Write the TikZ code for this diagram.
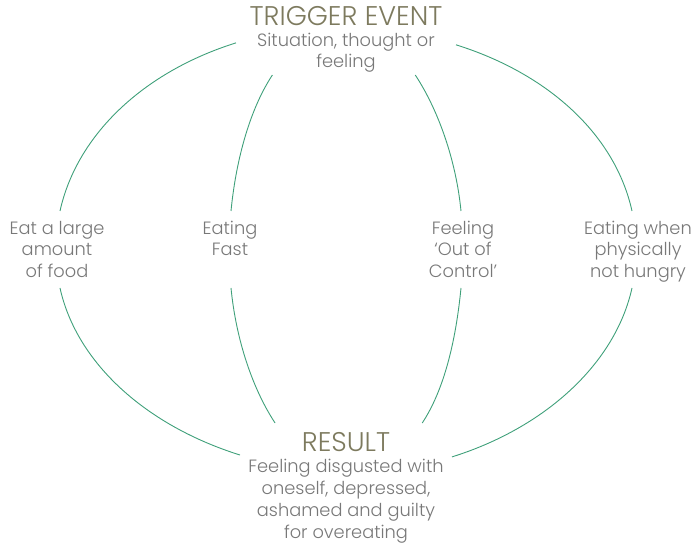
\documentclass[tikz,border=0pt]{standalone}
\usepackage{fontspec}
\setmainfont{Poppins}[UprightFont={* Light}]
\definecolor{headcol}{HTML}{7D7A5E}
\definecolor{textcol}{HTML}{787878}
\definecolor{arccol}{HTML}{3FA07A}
\tikzset{
  head/.style={text=headcol, font=\fontsize{27}{29}\selectfont, inner sep=0pt, outer sep=0pt},
  label/.style={text=textcol, font=\fontsize{17.8}{21.5}\selectfont, align=center, inner sep=0pt, outer sep=0pt},
  side/.style={label, anchor=north, yshift=-10pt},
  arc/.style={draw=arccol, line width=0.9pt}
}
\begin{document}
\begin{tikzpicture}[x=1pt, y=1pt]
  \useasboundingbox (0, 0) rectangle (694, 552);
  \node[head] (trigger) at (346, 536) {TRIGGER EVENT};
  \node[label, minimum width=220, minimum height=45] (sit) at (346, 499.5) {Situation, thought or\\feeling};

  \coordinate (eattop) at (60, 341);
  \coordinate (fasttop) at (231, 341);
  \coordinate (ctrltop) at (461, 341);
  \coordinate (whentop) at (632, 341);
  \node[side] (eat) at (57, 341) {Eat a large\\amount\\of food};
  \node[side] (fast) at (230, 341) {Eating\\Fast};
  \node[side] (ctrl) at (463, 341) {Feeling\\‘Out of\\Control’};
  \node[side] (when) at (638, 341) {Eating when\\physically\\not hungry};
  \coordinate (eatbot) at (60, 264);
  \coordinate (fastbot) at (231, 264);
  \coordinate (ctrlbot) at (461, 264);
  \coordinate (whenbot) at (632, 264);

  \node[head, minimum width=212, minimum height=38] (result) at (346, 110) {RESULT};
  \node[label, anchor=north, font=\fontsize{17.8}{22.2}\selectfont] (resdesc) at (346, 93) {Feeling disgusted with\\oneself, depressed,\\ashamed and guilty\\for overeating};

  % outer arcs
  \draw[arc] (sit.175.6) .. controls +(197.4:97) and +(77.5:78) .. (eattop);
  \draw[arc] (eatbot) .. controls +(282.5:78) and +(162.6:97) .. (result.187.5);
  \draw[arc] (sit.4.4) .. controls +(342.6:97) and +(102.5:78) .. (whentop);
  \draw[arc] (whenbot) .. controls +(257.5:78) and +(17.4:97) .. (result.352.5);
  % inner arcs
  \draw[arc] (sit.197.1) .. controls +(236.6:40) and +(84.4:53) .. (fasttop);
  \draw[arc] (fastbot) .. controls +(275.6:53) and +(123.4:40) .. (result.165.4);
  \draw[arc] (sit.342.9) .. controls +(303.4:40) and +(95.6:53) .. (ctrltop);
  \draw[arc] (ctrlbot) .. controls +(264.4:53) and +(56.6:40) .. (result.14.8);
\end{tikzpicture}
\end{document}
